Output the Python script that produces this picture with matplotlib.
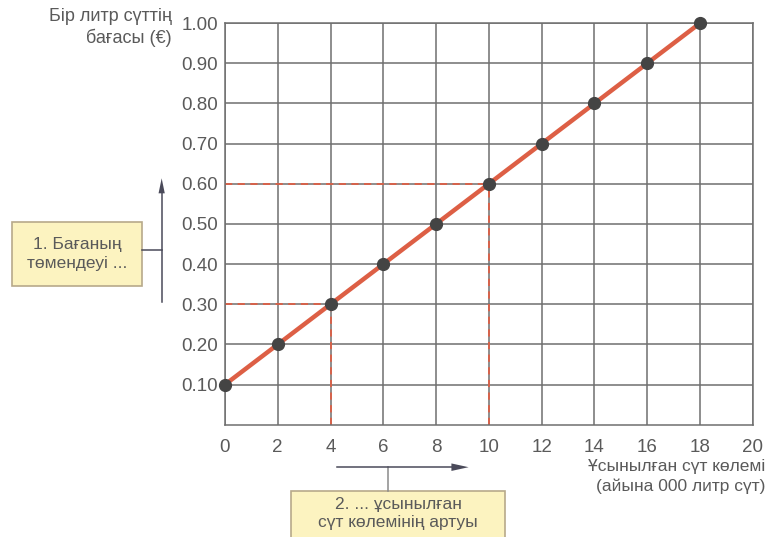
import matplotlib.pyplot as plt
from matplotlib.patches import FancyBboxPatch

plt.rcParams['font.family'] = ['Liberation Sans', 'DejaVu Sans']

# supply: quantity offered (thousand litres a month) vs price per litre
quantity = [0, 2, 4, 6, 8, 10, 12, 14, 16, 18]
price = [0.10, 0.20, 0.30, 0.40, 0.50, 0.60, 0.70, 0.80, 0.90, 1.00]
marked = [(4, 0.30), (10, 0.60)]

x_ticks = list(range(0, 21, 2))
y_ticks = [0.10, 0.20, 0.30, 0.40, 0.50, 0.60, 0.70, 0.80, 0.90, 1.00]

grey = '#6f6f6f'
txt = '#5a5a5a'
red = '#dd5f45'

fig = plt.figure(figsize=(7.81, 5.37), dpi=100)
ax = fig.add_axes([0.288, 0.209, 0.676, 0.748])

ax.set_xlim(0, 20)
ax.set_ylim(0, 1.0)
ax.set_xticks(x_ticks)
ax.set_yticks(y_ticks)
ax.set_yticklabels(['%.2f' % v for v in y_ticks])
ax.grid(True, color=grey, linewidth=1.1)
ax.set_axisbelow(True)
for s in ax.spines.values():
    s.set_color(grey)
    s.set_linewidth(1.1)
ax.tick_params(axis='y', length=0, labelsize=13.5, labelcolor=txt, pad=5)
ax.tick_params(axis='x', length=0, labelsize=13.5, labelcolor=txt, pad=10)

for qx, py in marked:
    ax.plot([0, qx], [py, py], color=red, ls=(0, (4, 3)), lw=1.3, zorder=2)
    ax.plot([qx, qx], [0, py], color=red, ls=(0, (4, 3)), lw=1.3, zorder=2)

ax.plot(quantity, price, color=red, lw=3.2, zorder=3, clip_on=False)
ax.plot(quantity, price, 'o', color='#444444', ms=8.5, zorder=4, clip_on=False)

fig.text(0.22, 0.985, 'Бір литр сүттің\nбағасы (€)', ha='right', va='top',
         fontsize=13, color=txt, linespacing=1.25)

fig.text(0.98, 0.112, 'Ұсынылған сүт көлемі\n(айына 000 литр сүт)', ha='right',
         va='center', fontsize=12.5, color=txt, linespacing=1.35)

box_fc = '#fcf3c0'
box_ec = '#b7a98a'

# box 1 with vertical arrow
fig.patches.append(FancyBboxPatch((0.016, 0.468), 0.166, 0.118, boxstyle='square,pad=0',
                                  fc=box_fc, ec=box_ec, lw=1.2, transform=fig.transFigure))
fig.text(0.099, 0.527, '1. Бағаның\nтөмендеуі ...', ha='center', va='center',
         fontsize=12.5, color=txt, linespacing=1.3)
fig.add_artist(plt.Line2D([0.182, 0.207], [0.535, 0.535], color='#4a4a5a', lw=1.1,
                          transform=fig.transFigure))
fig.add_artist(plt.Line2D([0.207, 0.207], [0.438, 0.64], color='#4a4a5a', lw=1.1,
                          transform=fig.transFigure))
fig.patches.append(plt.Polygon([(0.203, 0.64), (0.211, 0.64), (0.207, 0.668)],
                               closed=True, fc='#4a4a5a', ec='none',
                               transform=fig.transFigure))

# box 2 with horizontal arrow
fig.patches.append(FancyBboxPatch((0.372, -0.02), 0.275, 0.105, boxstyle='square,pad=0',
                                  fc=box_fc, ec=box_ec, lw=1.2, transform=fig.transFigure))
fig.text(0.51, 0.044, '2. ... ұсынылған\nсүт көлемінің артуы', ha='center', va='center',
         fontsize=12.5, color=txt, linespacing=1.3)
fig.add_artist(plt.Line2D([0.497, 0.497], [0.085, 0.13], color='#8a8a8a', lw=1.1,
                          transform=fig.transFigure))
fig.add_artist(plt.Line2D([0.432, 0.585], [0.13, 0.13], color='#4a4a5a', lw=1.1,
                          transform=fig.transFigure))
fig.patches.append(plt.Polygon([(0.578, 0.123), (0.578, 0.137), (0.6, 0.13)],
                               closed=True, fc='#4a4a5a', ec='none',
                               transform=fig.transFigure))

fig.savefig('out.png', dpi=100)
